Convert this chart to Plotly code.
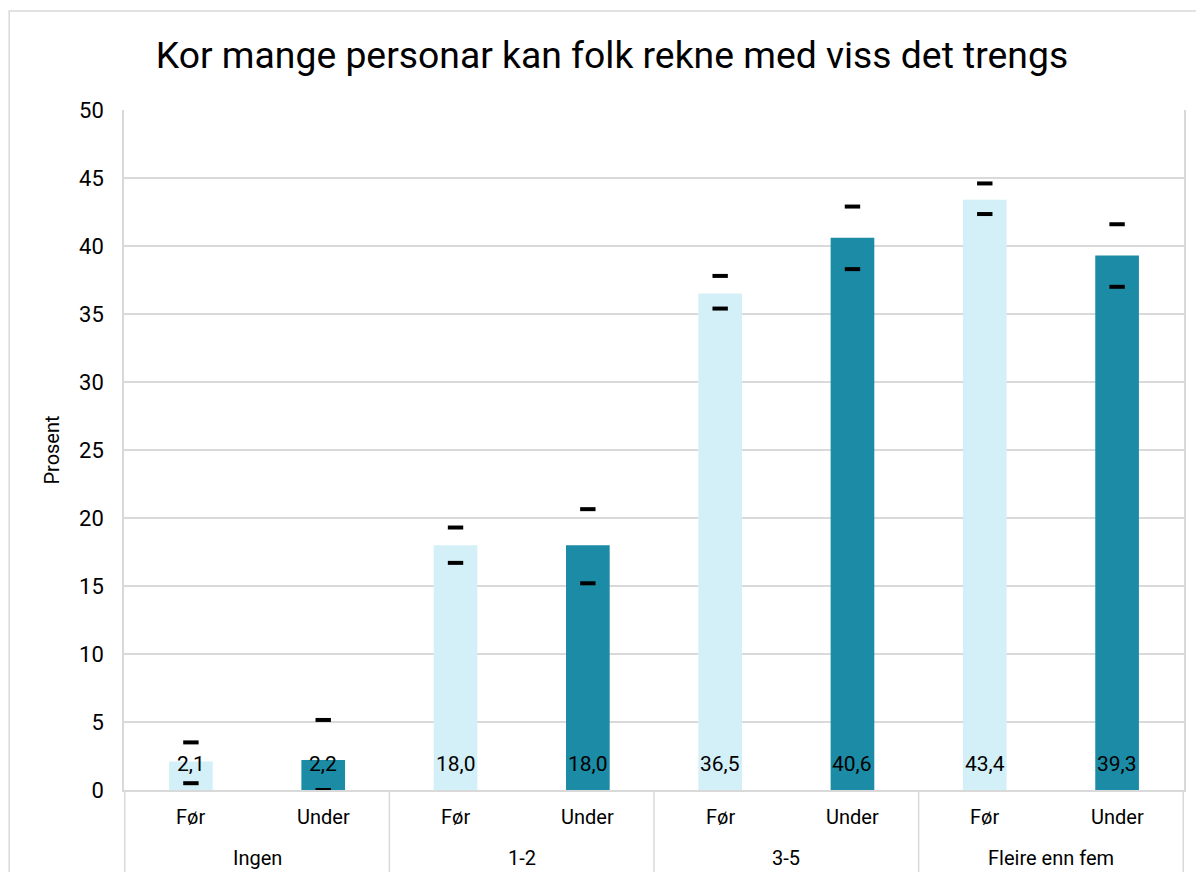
import plotly.graph_objects as go

groups = ["Ingen", "Ingen", "1-2", "1-2", "3-5", "3-5", "Fleire enn fem", "Fleire enn fem"]
periods = ["Før", "Under", "Før", "Under", "Før", "Under", "Før", "Under"]
values = [2.1, 2.2, 18.0, 18.0, 36.5, 40.6, 43.4, 39.3]
upper = [3.5, 5.15, 19.3, 20.65, 37.8, 42.9, 44.6, 41.6]
lower = [0.5, 0.0, 16.7, 15.2, 35.4, 38.3, 42.35, 37.0]
labels = [f"{v:.1f}".replace(".", ",") for v in values]

LIGHT = "#d3f0f8"
DARK = "#1b8ba6"
GRID = "#d9d9d9"
colors = [LIGHT if p == "Før" else DARK for p in periods]
FONT = "Roboto"

fig = go.Figure()
fig.add_trace(go.Bar(x=[groups, periods], y=values, marker=dict(color=colors, line=dict(width=0)),
                     width=0.33, showlegend=False, hoverinfo="y"))
for bound in (upper, lower):
    fig.add_trace(go.Scatter(x=[groups, periods], y=bound, mode="markers", showlegend=False,
                             marker=dict(symbol="line-ew", size=11, line=dict(width=4, color="black"))))

# data labels near the base of each bar
for i, lab in enumerate(labels):
    fig.add_annotation(x=i, y=0, xref="x", yref="y", text=lab, showarrow=False,
                       yanchor="bottom", yshift=12, font=dict(family=FONT, size=21, color="black"))

# first level category labels
for i, p in enumerate(periods):
    fig.add_annotation(x=i, y=0, xref="x", yref="y", text=p, showarrow=False,
                       yanchor="top", yshift=-13, font=dict(family=FONT, size=20, color="black"))

# second level group labels and dividers
uniq = list(dict.fromkeys(groups))
for g in uniq:
    idx = [i for i, gg in enumerate(groups) if gg == g]
    fig.add_annotation(x=sum(idx) / len(idx), y=0, xref="x", yref="y", text=g, showarrow=False,
                       yanchor="top", yshift=-54, font=dict(family=FONT, size=20, color="black"))
bounds = [-0.5] + [max(i for i, gg in enumerate(groups) if gg == g) + 0.5 for g in uniq]
for b in bounds:
    fig.add_shape(type="line", xref="x", yref="paper", x0=b, x1=b, y0=0, y1=-0.1206,
                  line=dict(color=GRID, width=1.5))

# outer chart border
fig.add_shape(type="rect", xref="paper", yref="paper", x0=-0.1083, x1=1.03, y0=-0.2, y1=1.1456,
              line=dict(color=GRID, width=1.5), fillcolor="rgba(0,0,0,0)", layer="below")

fig.update_layout(
    width=1188, height=864,
    margin=dict(l=116, r=10, t=102, b=82),
    paper_bgcolor="white", plot_bgcolor="white",
    font=dict(family=FONT, size=20, color="black"),
    title=dict(text="Kor mange personar kan folk rekne med viss det trengs", xref="container",
               x=0.5084, xanchor="center", y=0.9456, yanchor="middle",
               font=dict(family=FONT, size=37.3, color="black")),
    barmode="overlay",
    showlegend=False,
)
fig.update_xaxes(type="multicategory", showgrid=False, showline=True, linecolor=GRID, linewidth=1.5,
                 showticklabels=False, showdividers=False, ticks="")
fig.update_yaxes(range=[0, 50], dtick=5, showgrid=True, gridcolor=GRID, gridwidth=1.5,
                 showline=True, linecolor=GRID, linewidth=1.5, mirror=True, zeroline=False,
                 ticklabelstandoff=14, tickfont=dict(family=FONT, size=22, color="black"),
                 title=dict(text="Prosent", font=dict(family=FONT, size=20, color="black"), standoff=14))

fig.write_html("out.html")
